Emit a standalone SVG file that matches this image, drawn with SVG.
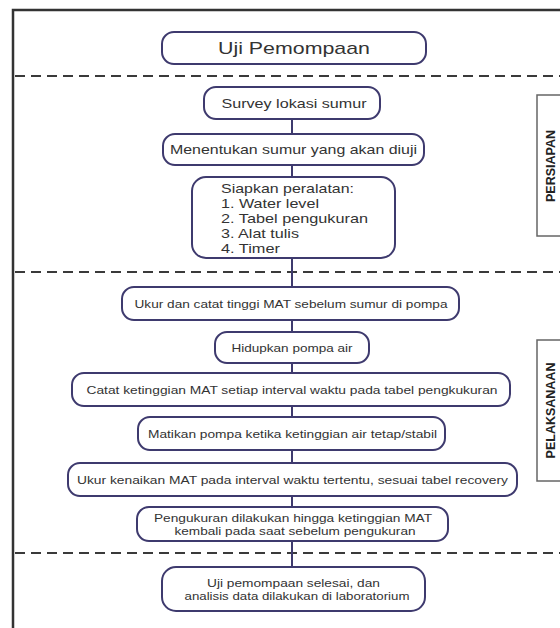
<svg xmlns="http://www.w3.org/2000/svg" width="560" height="628" viewBox="0 0 560 628">
<style>
.frame{fill:none;stroke:#333;stroke-width:2.5}
.dash{fill:none;stroke:#3a3a3a;stroke-width:2;stroke-dasharray:10 6}
.box{fill:#fff;stroke:#3e3a6e;stroke-width:2}
.side{fill:#fff;stroke:#666;stroke-width:1.5}
.conn{fill:none;stroke:#3e3a6e;stroke-width:2}
text{font-family:"Liberation Sans",Arial,sans-serif;fill:#333}
.t{font-size:17px;text-anchor:middle}
.m{font-size:13px}
.mc{font-size:13px;text-anchor:middle}
.s{font-size:11px;text-anchor:middle}
.lbl{font-size:12.5px;font-weight:bold;text-anchor:middle;fill:#222}
</style>
<rect width="560" height="628" fill="#fff"/>
<path class="frame" d="M13,628 V10 H562"/>
<g id="separators">
<line class="dash" x1="15" y1="76" x2="560" y2="76"/>
<line class="dash" x1="15" y1="272" x2="560" y2="272"/>
<line class="dash" x1="15" y1="553" x2="560" y2="553"/>
</g>
<g id="connectors">
<line class="conn" x1="292" y1="119" x2="292" y2="134"/>
<line class="conn" x1="292" y1="165" x2="292" y2="177"/>
<line class="conn" x1="292" y1="258" x2="292" y2="287"/>
<line class="conn" x1="292" y1="320" x2="292" y2="332"/>
<line class="conn" x1="292" y1="363" x2="292" y2="373"/>
<line class="conn" x1="292" y1="406" x2="292" y2="417"/>
<line class="conn" x1="292" y1="450" x2="292" y2="463"/>
<line class="conn" x1="292" y1="496" x2="292" y2="507"/>
<line class="conn" x1="292" y1="541" x2="292" y2="567"/>
</g>
<g id="n-title">
<rect class="box" x="162" y="32" width="264" height="32" rx="12"/>
<text class="t" x="294" y="54" textLength="152" lengthAdjust="spacingAndGlyphs">Uji Pemompaan</text>
</g>
<g id="n-survey">
<rect class="box" x="204" y="87" width="176" height="32" rx="12"/>
<text class="mc" x="294" y="107.5" textLength="145" lengthAdjust="spacingAndGlyphs">Survey lokasi sumur</text>
</g>
<g id="n-menentukan">
<rect class="box" x="163" y="134" width="261" height="31" rx="12"/>
<text class="mc" x="293.5" y="154" textLength="247" lengthAdjust="spacingAndGlyphs">Menentukan sumur yang akan diuji</text>
</g>
<g id="n-siapkan">
<rect class="box" x="192" y="177" width="203" height="81" rx="14"/>
<text class="m" x="221" y="192.5" textLength="133" lengthAdjust="spacingAndGlyphs">Siapkan peralatan:</text>
<text class="m" x="221" y="207.5" textLength="98" lengthAdjust="spacingAndGlyphs">1. Water level</text>
<text class="m" x="221" y="222.5" textLength="147" lengthAdjust="spacingAndGlyphs">2. Tabel pengukuran</text>
<text class="m" x="221" y="237.5" textLength="78" lengthAdjust="spacingAndGlyphs">3. Alat tulis</text>
<text class="m" x="221" y="252.5" textLength="59" lengthAdjust="spacingAndGlyphs">4. Timer</text>
</g>
<g id="n-ukur-catat">
<rect class="box" x="122" y="287" width="337" height="33" rx="12"/>
<text class="s" x="291" y="307.5" textLength="313" lengthAdjust="spacingAndGlyphs">Ukur dan catat tinggi MAT sebelum sumur di pompa</text>
</g>
<g id="n-hidupkan">
<rect class="box" x="215" y="332" width="154" height="31" rx="12"/>
<text class="s" x="292" y="351.5" textLength="121" lengthAdjust="spacingAndGlyphs">Hidupkan pompa air</text>
</g>
<g id="n-catat">
<rect class="box" x="72" y="373" width="438" height="33" rx="12"/>
<text class="s" x="292" y="393.5" textLength="411" lengthAdjust="spacingAndGlyphs">Catat ketinggian MAT setiap interval waktu pada tabel pengkukuran</text>
</g>
<g id="n-matikan">
<rect class="box" x="138" y="417" width="307" height="33" rx="12"/>
<text class="s" x="292.5" y="437.5" textLength="289" lengthAdjust="spacingAndGlyphs">Matikan pompa ketika ketinggian air tetap/stabil</text>
</g>
<g id="n-ukur-kenaikan">
<rect class="box" x="68" y="463" width="449" height="33" rx="12"/>
<text class="s" x="292.5" y="483.5" textLength="431" lengthAdjust="spacingAndGlyphs">Ukur kenaikan MAT pada interval waktu tertentu, sesuai tabel recovery</text>
</g>
<g id="n-pengukuran">
<rect class="box" x="137" y="507" width="311" height="34" rx="12"/>
<text class="s" x="293" y="521.5" textLength="278" lengthAdjust="spacingAndGlyphs">Pengukuran dilakukan hingga ketinggian MAT</text>
<text class="s" x="295" y="534.5" textLength="241" lengthAdjust="spacingAndGlyphs">kembali pada saat sebelum pengukuran</text>
</g>
<g id="n-selesai">
<rect class="box" x="162" y="567" width="263" height="44" rx="14"/>
<text class="s" x="293.5" y="587" textLength="173" lengthAdjust="spacingAndGlyphs">Uji pemompaan selesai, dan</text>
<text class="s" x="297" y="600" textLength="225" lengthAdjust="spacingAndGlyphs">analisis data dilakukan di laboratorium</text>
</g>
<g id="l-persiapan">
<rect class="side" x="537" y="95" width="40" height="141"/>
<text class="lbl" transform="translate(554.5,166) rotate(-90)">PERSIAPAN</text>
</g>
<g id="l-pelaksanaan">
<rect class="side" x="537" y="340" width="40" height="141"/>
<text class="lbl" transform="translate(554.5,410.5) rotate(-90)">PELAKSANAAN</text>
</g>
</svg>
